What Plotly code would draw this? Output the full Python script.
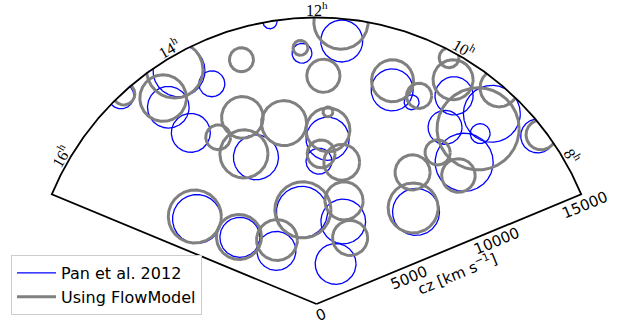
import numpy as np
import plotly.graph_objects as go

# ---------------- data (km/s) ----------------
# Void centres projected onto the RA-cz wedge plane, and void radii
pan_x = [-2440, -760, 1320, 3960, 4980, 7200, 9180, 6730, 8570, 7730, 11580, 5210, 580,
         130, 1400, 1000, -760, -6260, -4010, -2100, -3170, -6580, -7760, -7200, -5480, -10240]
pan_y = [14780, 13130, 13770, 11210, 10560, 10900, 9960, 9250, 8920, 7420, 8800, 4820, 8650,
         7480, 4320, 2100, 4820, 4450, 3490, 2780, 7680, 8960, 10300, 12210, 11530, 10900]
pan_r = [370, 520, 1100, 1100, 390, 1000, 1490, 890, 520, 1520, 890, 1230, 1130,
         680, 1170, 1070, 1340, 1280, 1050, 1020, 1180, 1020, 1090, 1360, 680, 680]

flow_x = [-840, -3930, 360, 1280, 3980, 5370, 6940, 7150, 9560, 8460, 6340, 7430, 5030, 5060,
          11760, 600, 600, 240, 1320, 1440, 1760, -710, -6370, -4060, -2070, -3800, -3880,
          -1700, -5150, -8030, -7420, -10090]
flow_y = [13410, 12790, 11950, 14760, 11690, 10900, 12890, 11740, 11320, 9170, 7940, 6730, 6890,
          5030, 8860, 9120, 10060, 7860, 7420, 5400, 3460, 4930, 4580, 3510, 3350, 7860, 9770,
          9470, 8730, 10780, 12260, 11000]
flow_r = [390, 630, 870, 1420, 1100, 660, 520, 1050, 1000, 2150, 660, 880, 920, 1310,
          790, 1150, 260, 730, 940, 1000, 920, 1470, 1390, 1180, 1070, 1260, 1090,
          1180, 650, 1220, 1480, 580]

ra_ticks = [8, 10, 12, 14, 16]
ra_labels = ["8<sup>h</sup>", "10<sup>h</sup>", "12<sup>h</sup>", "14<sup>h</sup>", "16<sup>h</sup>"]
cz_ticks = [0, 5000, 10000, 15000]
cz_labels = ["0", "5000", "10000", "15000"]
RA_MIN, RA_MAX = 7.5, 16.5
CZ_MAX = 15000


def theta_deg(ra):
    return 90.0 + (ra - 12.0) * 15.0


TH_MIN, TH_MAX = theta_deg(RA_MIN), theta_deg(RA_MAX)


def circles(xs, ys, rs):
    t = np.linspace(0, 2 * np.pi, 721)
    X, Y = [], []
    for x0, y0, r in zip(xs, ys, rs):
        x = x0 + r * np.cos(t)
        y = y0 + r * np.sin(t)
        cz = np.hypot(x, y)
        ang = np.degrees(np.arctan2(y, x))
        inside = (cz <= CZ_MAX) & (ang >= TH_MIN) & (ang <= TH_MAX)
        X += [float(a) if k else None for a, k in zip(x, inside)] + [None]
        Y += [float(b) if k else None for b, k in zip(y, inside)] + [None]
    return X, Y


fig = go.Figure()

bx, by = circles(pan_x, pan_y, pan_r)
fig.add_trace(go.Scatter(x=bx, y=by, mode="lines", name="Pan et al. 2012",
                         line=dict(color="#0000ff", width=1.3), hoverinfo="skip",
                         connectgaps=False))
gx, gy = circles(flow_x, flow_y, flow_r)
fig.add_trace(go.Scatter(x=gx, y=gy, mode="lines", name="Using FlowModel",
                         line=dict(color="#808080", width=3), hoverinfo="skip",
                         connectgaps=False))

# wedge outline
arc_th = np.radians(np.linspace(TH_MIN, TH_MAX, 400))
wx = [0.0] + list(CZ_MAX * np.cos(arc_th)) + [0.0]
wy = [0.0] + list(CZ_MAX * np.sin(arc_th)) + [0.0]
fig.add_trace(go.Scatter(x=wx, y=wy, mode="lines", line=dict(color="black", width=1.8),
                         showlegend=False, hoverinfo="skip"))

annotations = []
# RA labels around the arc (anchored on the arc, shifted outward in pixels)
d_out = 9
for ra, lab in zip(ra_ticks, ra_labels):
    th = np.radians(theta_deg(ra))
    annotations.append(dict(x=CZ_MAX * np.cos(th), y=CZ_MAX * np.sin(th), text=lab,
                            showarrow=False, textangle=(12 - ra) * 15,
                            xanchor="center", yanchor="middle",
                            xshift=d_out * np.cos(th), yshift=d_out * np.sin(th),
                            font=dict(family="Liberation Serif", size=16, color="black")))

# cz labels along the right edge
th_r = np.radians(TH_MIN)
for cz, lab in zip(cz_ticks, cz_labels):
    annotations.append(dict(x=cz * np.cos(th_r), y=cz * np.sin(th_r), text=lab, showarrow=False,
                            textangle=-22.5, xanchor="center", yanchor="middle",
                            xshift=4, yshift=-10.5,
                            font=dict(family="DejaVu Sans", size=15, color="black")))
mid = CZ_MAX / 2
annotations.append(dict(x=mid * np.cos(th_r), y=mid * np.sin(th_r),
                        text="cz [km s<sup>\u22121</sup>]", showarrow=False,
                        textangle=-22.5, xanchor="center", yanchor="middle",
                        xshift=8, yshift=-24,
                        font=dict(family="DejaVu Sans", size=15, color="black")))

k = CZ_MAX / 286.5  # km/s per pixel
W, H = 624, 327
x0_px, y0_px = 316.5, 304
fig.update_layout(
    width=W, height=H,
    margin=dict(l=0, r=0, t=0, b=0),
    paper_bgcolor="white", plot_bgcolor="white",
    xaxis=dict(range=[-x0_px * k, (W - x0_px) * k], visible=False, fixedrange=True),
    yaxis=dict(range=[-(H - y0_px) * k, y0_px * k], visible=False, fixedrange=True),
    annotations=annotations,
    showlegend=True,
    legend=dict(x=11 / W, y=(H - 315) / H, xanchor="left", yanchor="bottom",
                bgcolor="white", bordercolor="#cccccc", borderwidth=1, itemwidth=39,
                font=dict(family="DejaVu Sans", size=16, color="black")),
)

fig.write_html("out.html", config={"displayModeBar": False},
               post_script="document.body.style.margin='0';document.body.style.overflow='hidden';")
